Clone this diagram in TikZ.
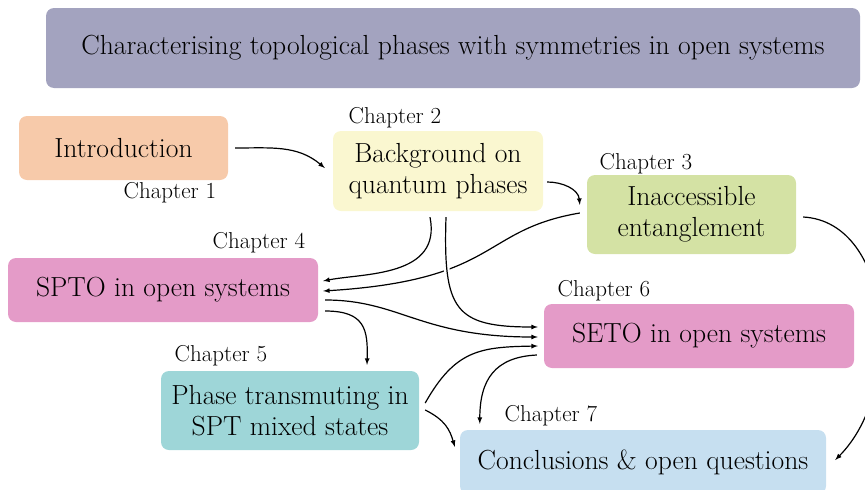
\documentclass[tikz,border=0pt]{standalone}
\usepackage{tikz}
\usetikzlibrary{positioning,calc}
\definecolor{titlecol}{RGB}{163,163,191}
\definecolor{introcol}{RGB}{247,202,170}
\definecolor{backcol}{RGB}{250,247,208}
\definecolor{inacccol}{RGB}{212,226,164}
\definecolor{opencol}{RGB}{228,155,200}
\definecolor{transcol}{RGB}{158,214,216}
\definecolor{conccol}{RGB}{198,223,240}
\tikzset{
  chapbox/.style   = {shape=rectangle, rounded corners=8pt, fill=#1,
                      align=center, font=\fontsize{27.6}{31}\selectfont, inner sep=0pt},
  chaplabel/.style = {font=\fontsize{23}{27}\selectfont, inner sep=0pt},
  link/.style      = {draw, line width=1.2pt, -latex},
  over/.style      = {preaction={draw=white, line width=6pt}}
}

\begin{document}
\begin{tikzpicture}[x=1pt, y=-1pt]
  \useasboundingbox (0,0) rectangle (865,490);
  % boxes
  \node [chapbox=titlecol, minimum width=814pt, minimum height=80pt] (title) at (453,48)
    {Characterising topological phases with symmetries in open systems};
  \node [chapbox=introcol, minimum width=209pt, minimum height=64pt] (intro) at (123.5,148) {Introduction};
  \node [chapbox=backcol, minimum width=210pt, minimum height=80pt] (back) at (438,171) {Background on\\quantum phases};
  \node [chapbox=inacccol, minimum width=209pt, minimum height=79pt] (inacc) at (691.5,214.5) {Inaccessible\\entanglement};
  \node [chapbox=opencol, minimum width=310pt, minimum height=64pt] (spto) at (163,290) {SPTO in open systems};
  \node [chapbox=opencol, minimum width=310pt, minimum height=64pt] (seto) at (699,336) {SETO in open systems};
  \node [chapbox=transcol, minimum width=258pt, minimum height=79pt] (trans) at (290,410.5) {Phase transmuting in\\SPT mixed states};
  \node [chapbox=conccol, minimum width=366pt, minimum height=64pt] (conc) at (643,462) {Conclusions \& open questions};
  % chapter labels
  \node [chaplabel] (ch1) at (170,193) {Chapter 1};
  \node [chaplabel] (ch2) at (395,118) {Chapter 2};
  \node [chaplabel] (ch3) at (646,164) {Chapter 3};
  \node [chaplabel] (ch4) at (259,243) {Chapter 4};
  \node [chaplabel] (ch5) at (221,356) {Chapter 5};
  \node [chaplabel] (ch6) at (604,291) {Chapter 6};
  \node [chaplabel] (ch7) at (551,416) {Chapter 7};
  % links
  \draw [link] ($(intro.east)+(7,0)$) to [out=0, in=140] ($(back.west)+(-8,-3)$);
  \draw [link] ($(back.east)+(4,11)$) to [out=0, in=95] ($(inacc.north west)+(-7,30)$);
  \draw [link] ($(back.south)+(-8,6)$) .. controls +(12,60) and +(40,-8) .. ($(spto.east)+(5,-9)$);
  \draw [link] ($(inacc.west)+(-7,-1.5)$) .. controls +(-100,17) and +(177,-11) .. ($(spto.east)+(5,1)$);
  \draw [link, over] ($(back.south)+(8,6)$) .. controls +(-3,93) and +(-83,0) .. ($(seto.west)+(-6,-9)$);
  \draw [link] ($(spto.east)+(7,10)$) .. controls +(75,0) and +(-118,0) .. ($(seto.west)+(-6,1)$);
  \draw [link] ($(spto.east)+(7,21)$) .. controls +(40,0) and +(1,-35) .. ($(trans.north)+(77,-6)$);
  \draw [link] ($(trans.east)+(6,-7.5)$) .. controls +(30,-53) and +(-58,1) .. ($(seto.west)+(-6,10)$);
  \draw [link] ($(seto.west)+(-7,19)$) .. controls +(-42,2) and +(0,-44) .. ($(conc.north west)+(20,-6)$);
  \draw [link] ($(trans.east)+(6,-0.5)$) .. controls +(20,10) and +(-5,-17) .. ($(conc.north west)+(-5,17)$);
  \draw [link] ($(inacc.east)+(7,2.5)$) .. controls +(90,5) and +(70,-70) .. ($(conc.east)+(9,-2)$);
\end{tikzpicture}
\end{document}
